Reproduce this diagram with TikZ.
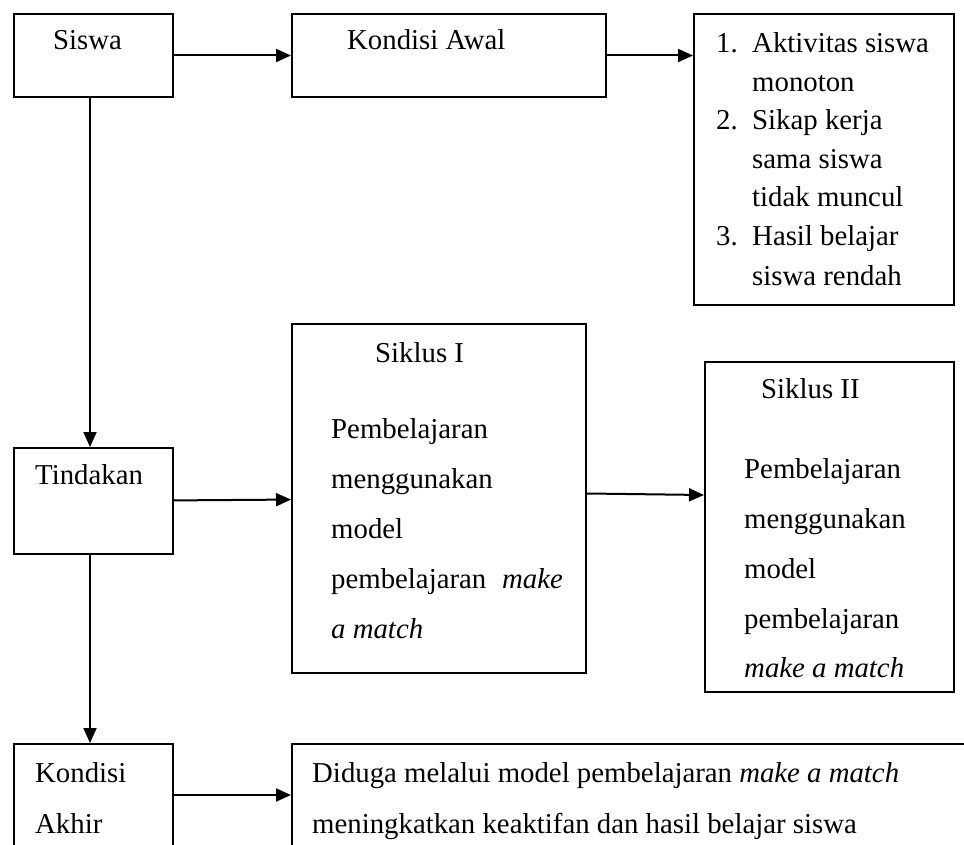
\documentclass[tikz,border=0pt]{standalone}
\usepackage{fontspec}
\setmainfont{Liberation Serif}
\usetikzlibrary{arrows.meta}
\begin{document}
\begin{tikzpicture}[x=1pt,y=-1pt,
  box/.style={draw, line width=2pt, inner sep=0pt, anchor=north west},
  lbl/.style={anchor=base west, inner sep=0pt, font=\fontsize{28.8}{34}\selectfont},
  arr/.style={line width=2pt, -{Triangle[length=15pt,width=13pt]}}]
\useasboundingbox (0,0) rectangle (964,845);
\clip (0,0) rectangle (964,845);
% boxes
\node[box, minimum width=159pt, minimum height=83pt] (siswa) at (13,13) {};
\node[box, minimum width=314pt, minimum height=83pt] (kawal) at (291,13) {};
\node[box, minimum width=260pt, minimum height=291pt] (list) at (693,13) {};
\node[box, minimum width=159pt, minimum height=106pt] (tind) at (13,447) {};
\node[box, minimum width=294pt, minimum height=349pt] (s1) at (291,323) {};
\node[box, minimum width=249pt, minimum height=330pt] (s2) at (704,361) {};
\node[box, minimum width=159pt, minimum height=160pt] (kakhir) at (13,743) {};
\node[box, minimum width=760pt, minimum height=160pt] (hasil) at (291,743) {};
% texts
\node[lbl] (tsiswa) at (53,50) {Siswa};
\node[lbl] (tkawal) at (347,50) {Kondisi Awal};
\node[lbl] (n1) at (716,53) {1.};
\node[lbl] (l1) at (752,53) {Aktivitas siswa};
\node[lbl] (l2) at (752,92) {monoton};
\node[lbl] (n2) at (716,130) {2.};
\node[lbl] (l3) at (752,130) {Sikap kerja};
\node[lbl] (l4) at (752,169) {sama siswa};
\node[lbl] (l5) at (752,207) {tidak muncul};
\node[lbl] (n3) at (716,246) {3.};
\node[lbl] (l6) at (752,246) {Hasil belajar};
\node[lbl] (l7) at (752,285) {siswa rendah};
\node[lbl] (ttind) at (35,484) {Tindakan};
\node[lbl] (s1h) at (375,362) {Siklus I};
\node[lbl] (s1a) at (331,438) {Pembelajaran};
\node[lbl] (s1b) at (331,488) {menggunakan};
\node[lbl] (s1c) at (331,538) {model};
\node[lbl] (s1d) at (331,588) {pembelajaran\hspace{0.55em}\textit{make}};
\node[lbl] (s1e) at (331,638) {\textit{a match}};
\node[lbl] (s2h) at (761,398) {Siklus II};
\node[lbl] (s2a) at (744,478) {Pembelajaran};
\node[lbl] (s2b) at (744,528) {menggunakan};
\node[lbl] (s2c) at (744,578) {model};
\node[lbl] (s2d) at (744,628) {pembelajaran};
\node[lbl] (s2e) at (744,677) {\textit{make a match}};
\node[lbl] (tk1) at (35,782) {Kondisi};
\node[lbl] (tk2) at (35,833) {Akhir};
\node[lbl] (h1) at (312,782) {Diduga melalui model pembelajaran \textit{make a match}};
\node[lbl] (h2) at (312,833) {meningkatkan keaktifan dan hasil belajar siswa};
% connectors
\coordinate (ya) at (0,795);
\draw[arr] (siswa) -- (kawal);
\draw[arr] (kawal.east) -- (list.west |- kawal.east);
\draw[arr] ([xshift=-3.5pt]siswa.south) -- ([xshift=-3.5pt]tind.north);
\draw[arr] (tind) -- (s1);
\draw[arr] ([yshift=5pt]s1.east) -- ([yshift=32pt]s2.west);
\draw[arr] ([xshift=-3.5pt]tind.south) -- ([xshift=-3.5pt]kakhir.north);
\draw[arr] (kakhir.east |- ya) -- (hasil.west |- ya);
\end{tikzpicture}
\end{document}
